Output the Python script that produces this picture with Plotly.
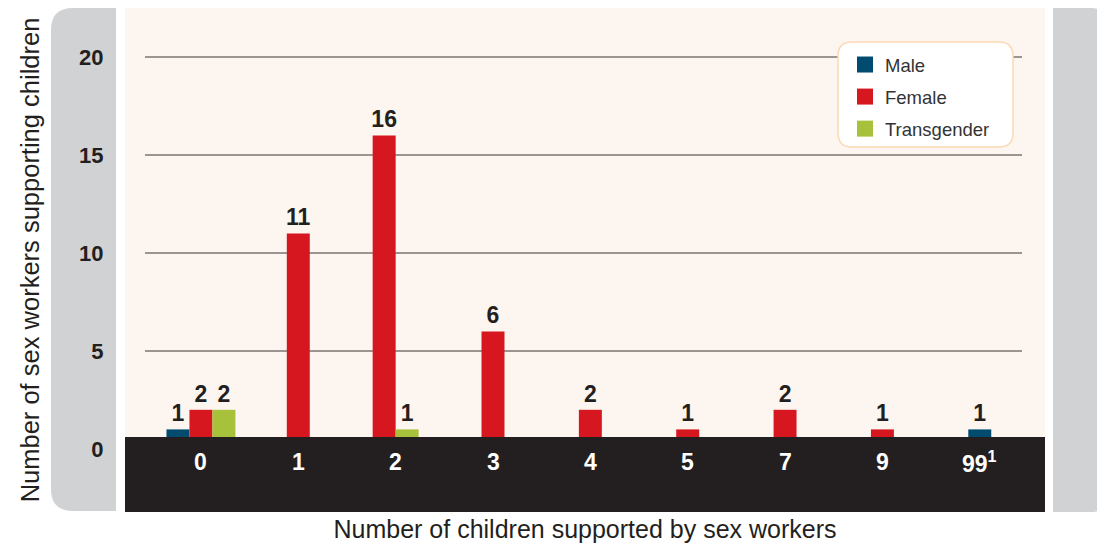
import plotly.graph_objects as go

# Données
categories = ["0", "1", "2", "3", "4", "5", "7", "9", "99"]
tick_labels = ["0", "1", "2", "3", "4", "5", "7", "9", "99<sup>1</sup>"]
male = [1, None, None, None, None, None, None, None, 1]
female = [2, 11, 16, 6, 2, 1, 2, 1, None]
transgender = [2, None, 1, None, None, None, None, None, None]
y_ticks = [0, 5, 10, 15, 20]

series = [("Male", male, "#004b6e"),
          ("Female", female, "#d7171f"),
          ("Transgender", transgender, "#a8c13a")]

colors = {
    'cream': '#fdf5ef',
    'grey': '#d1d2d4',
    'dark': '#231f20',
    'legend_line': '#fbd9b3',
}

# la page ajoute une marge de 8 px : on travaille en pixels écran
OFF = 8
FIG_W, FIG_H = 1105 - OFF, 547 - OFF
L, R, T, B = 125 - OFF, 1045 - OFF, 8 - OFF, 512 - OFF
W, H = R - L, B - T


def px_x(x):
    return (x - OFF - L) / W


def px_y(y):
    return (B - (y - OFF)) / H


def rounded(x0, y0, x1, y1, r, corners=("tl", "tr", "br", "bl")):
    """chemin svg (coordonnées paper) d'un rectangle aux coins arrondis"""
    rt = {c: (r if c in corners else 0) for c in ("tl", "tr", "br", "bl")}
    pts = []
    pts.append("M%f,%f" % (px_x(x0 + rt["tl"]), px_y(y0)))
    pts.append("L%f,%f" % (px_x(x1 - rt["tr"]), px_y(y0)))
    pts.append("Q%f,%f %f,%f" % (px_x(x1), px_y(y0), px_x(x1), px_y(y0 + rt["tr"])))
    pts.append("L%f,%f" % (px_x(x1), px_y(y1 - rt["br"])))
    pts.append("Q%f,%f %f,%f" % (px_x(x1), px_y(y1), px_x(x1 - rt["br"]), px_y(y1)))
    pts.append("L%f,%f" % (px_x(x0 + rt["bl"]), px_y(y1)))
    pts.append("Q%f,%f %f,%f" % (px_x(x0), px_y(y1), px_x(x0), px_y(y1 - rt["bl"])))
    pts.append("L%f,%f" % (px_x(x0), px_y(y0 + rt["tl"])))
    pts.append("Q%f,%f %f,%f" % (px_x(x0), px_y(y0), px_x(x0 + rt["tl"]), px_y(y0)))
    return " ".join(pts) + " Z"


# décalage des barres : centrées sur la catégorie selon les séries présentes
bar_w = 0.236
offsets = {name: [0] * len(categories) for name, _, _ in series}
for i in range(len(categories)):
    present = [name for name, vals, _ in series if vals[i] is not None]
    n = len(present)
    for k, name in enumerate(present):
        offsets[name][i] = -n * bar_w / 2 + k * bar_w

fig = go.Figure()
for name, vals, col in series:
    fig.add_trace(go.Bar(x=categories, y=vals, name=name, marker_color=col,
                         marker_line_width=0, width=bar_w, offset=offsets[name],
                         text=vals, textposition="outside", constraintext="none", cliponaxis=False,
                         textfont=dict(family="Liberation Sans", size=23, color=colors['dark'], weight="bold"),
                         showlegend=False))
    # entrée de légende
    fig.add_trace(go.Scatter(x=[None], y=[None], mode="markers", name=name, legendgroup=name,
                             marker=dict(symbol="square", size=16, color=col)))

shapes = []
# panneaux gris
shapes.append(dict(type="path", xref="paper", yref="paper", path=rounded(51, 8, 116, 511, 22, ("tl", "bl")),
                   fillcolor=colors['grey'], line_width=0, layer="below"))
shapes.append(dict(type="path", xref="paper", yref="paper", path=rounded(1053, 8, 1105, 512, 14, ("tr", "br")),
                   fillcolor=colors['grey'], line_width=0, layer="below"))
# lignes de grille
for v in y_ticks[1:]:
    shapes.append(dict(type="line", xref="paper", yref="y", x0=px_x(145), x1=px_x(1022), y0=v, y1=v,
                       line=dict(color="#3a3637", width=1), layer="below"))
# bande noire
shapes.append(dict(type="rect", xref="paper", yref="paper", x0=0, x1=1, y0=0, y1=px_y(437),
                   fillcolor=colors['dark'], line_width=0, layer="above"))
# cadre de la légende
shapes.append(dict(type="path", xref="paper", yref="paper", path=rounded(838, 42, 1013, 147, 14),
                   fillcolor="white", line=dict(color=colors['legend_line'], width=1.5), layer="below"))

# étiquettes de l'axe x (au-dessus de la bande noire)
annotations = []
for i, t in enumerate(tick_labels):
    annotations.append(dict(x=i, xref="x", y=px_y(462), yref="paper", text=t, showarrow=False,
                            yanchor="middle", xanchor="center",
                            font=dict(family="Liberation Sans", size=23, color="white", weight="bold")))

fig.update_layout(
    width=FIG_W, height=FIG_H,
    margin=dict(l=L, r=FIG_W - R, t=T, b=FIG_H - B),
    paper_bgcolor="white", plot_bgcolor=colors['cream'],
    barmode="overlay",
    shapes=shapes, annotations=annotations,
    legend=dict(x=px_x(845), y=px_y(46), xanchor="left", yanchor="top", bgcolor="rgba(0,0,0,0)",
                font=dict(family="Liberation Sans", size=18.5, color="#333333"), tracegroupgap=5),
    xaxis=dict(type="category", range=[-0.78, 8.67], showticklabels=False, showgrid=False, zeroline=False,
               title=dict(text="Number of children supported by sex workers", standoff=8,
                          font=dict(family="Liberation Sans", size=25, color=colors['dark']))),
    yaxis=dict(range=[-3.214, 22.5], tickvals=y_ticks, showgrid=False, zeroline=False,
               ticks="outside", ticklen=16, tickcolor="rgba(0,0,0,0)",
               tickfont=dict(family="Liberation Sans Narrow, Liberation Sans", size=22, color=colors['dark'], weight="bold"),
               title=dict(text="Number of sex workers supporting children", standoff=32,
                          font=dict(family="Liberation Sans", size=25.5, color=colors['dark']))),
)

fig.write_html("out.html")
